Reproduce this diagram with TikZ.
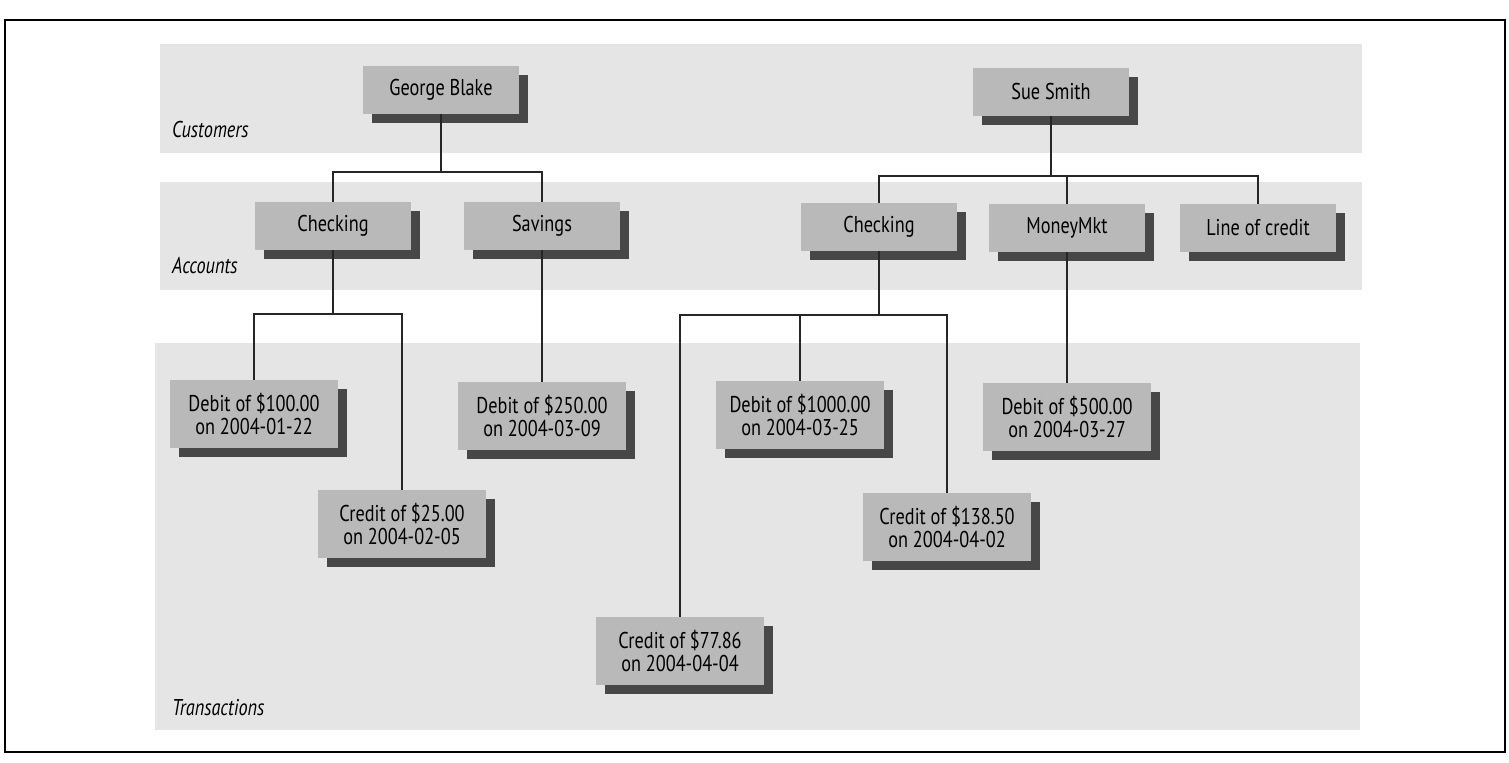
\documentclass[tikz,border=0pt]{standalone}
\usepackage{fontspec}
\setmainfont{PT Sans}[FakeStretch=0.8]
\usepackage{tikz}
\usepackage{xcolor}
\usetikzlibrary{shadows}
\tikzset{
    block/.style    = { rectangle, fill=gray!55, inner sep=2pt,
	minimum width=3.12cm, minimum height=0.96cm,
	font=\fontsize{13}{13.6}\selectfont,
	drop shadow={shadow xshift=0.18cm, shadow yshift=-0.18cm, fill=black!72, opacity=1} },
	trans/.style    = { block, minimum width=3.36cm, minimum height=1.36cm, align=center },
	band/.style     = { fill=gray!20 },
	layer/.style    = { anchor=west, font=\fontsize{13}{14}\selectfont\itshape },
	line/.style     = { draw, line width=0.7pt, black!85 },
}

\begin{document}
\begin{tikzpicture}[x=0.02cm, y=-0.02cm]
				\useasboundingbox (0,0) rectangle (1509,763);
				\draw[line width=0.8pt] (5,20) rectangle (1505,752);
				\fill[band] (160,44) rectangle (1362,153);
				\fill[band] (160,182) rectangle (1362,290);
				\fill[band] (155,343) rectangle (1360,730);
				\node (l1) [layer] at (166,130) {Customers};
				\node (l2) [layer] at (166,266) {Accounts};
				\node (l3) [layer] at (166,708) {Transactions};
				\node (c1) [block] at (441,90) {George Blake};
				\node (c2) [block] at (1051,92) {Sue Smith};
				\node (a1) [block] at (333,226) {Checking};
				\node (a2) [block] at (542,226) {Savings};
				\node (a3) [block] at (879,227) {Checking};
				\node (a4) [block] at (1067,228) {MoneyMkt};
				\node (a5) [block] at (1258,228) {Line of credit};
				\node (t1) [trans] at (254,414) {Debit of \$100.00\\on 2004-01-22};
				\node (t2) [trans] at (402,524) {Credit of \$25.00\\on 2004-02-05};
				\node (t3) [trans] at (542,416) {Debit of \$250.00\\on 2004-03-09};
				\node (t4) [trans] at (800,415) {Debit of \$1000.00\\on 2004-03-25};
				\node (t5) [trans] at (947,527) {Credit of \$138.50\\on 2004-04-02};
				\node (t6) [trans] at (680,651) {Credit of \$77.86\\on 2004-04-04};
				\node (t7) [trans] at (1067,417) {Debit of \$500.00\\on 2004-03-27};
				\coordinate (b1) at (441,172);
				\coordinate (b2) at (1051,176);
				\coordinate (b3) at (333,314);
				\coordinate (b4) at (879,315);
				\draw[line] (c1) -- (b1) -| (a1) (b1) -| (a2);
				\draw[line] (c2) -- (b2) -| (a3) (b2) -| (a4) (b2) -| (a5);
				\draw[line] (a1) -- (b3) -| (t1) (b3) -| (t2);
				\draw[line] (a2) -- (t3);
				\draw[line] (a3) -- (b4) -| (t4) (b4) -| (t6) (b4) -| (t5);
				\draw[line] (a4) -- (t7);
\end{tikzpicture}
\end{document}
